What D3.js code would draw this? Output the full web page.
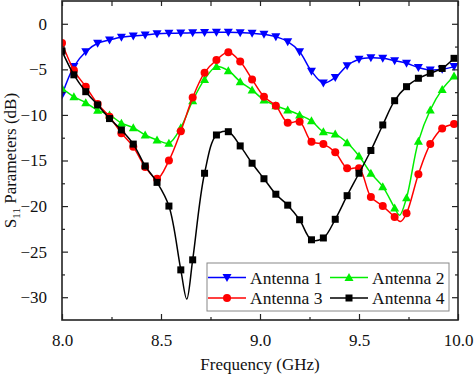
<!DOCTYPE html>
<html>
<head>
<meta charset="utf-8">
<script src="https://cdn.jsdelivr.net/npm/d3@7"></script>
<style>
  body { margin: 0; background: #fff; }
  svg { display: block; }
  svg text { font-family: "Liberation Serif"; }
</style>
</head>
<body>
<div id="chart"></div>
<script>
const freqs = [8.00, 8.06, 8.12, 8.18, 8.24, 8.30, 8.36, 8.42, 8.48, 8.54,
  8.60, 8.66, 8.72, 8.78, 8.84, 8.90, 8.96, 9.02, 9.08, 9.14,
  9.20, 9.26, 9.32, 9.38, 9.44, 9.50, 9.56, 9.62, 9.68, 9.74,
  9.80, 9.86, 9.92, 9.98];

const antenna1 = [-7.8, -4.7, -3.06, -2.14, -1.78, -1.48, -1.34, -1.23, -1.1, -1.04,
  -1.02, -0.98, -0.95, -0.93, -0.93, -0.98, -1.04, -1.15, -1.41, -1.96,
  -3.06, -5.2, -6.5, -5.9, -4.6, -3.9, -3.72, -3.79, -4.05, -4.34,
  -4.8, -5.07, -5.0, -4.7];

const antenna2 = [-7.08, -8.0, -8.66, -9.5, -10.0, -10.9, -11.4, -12.2, -12.75, -13.1,
  -11.4, -8.44, -6.1, -4.7, -5.15, -6.35, -7.26, -8.36, -9.0, -9.46,
  -10.0, -10.65, -11.84, -12.1, -13.05, -14.5, -16.4, -17.87, -20.2, -19.1,
  -12.9, -9.46, -7.2, -5.73];

const antenna3 = [-2.1, -5.1, -6.9, -8.8, -10.2, -12.0, -13.5, -15.7, -17.0, -15.0,
  -11.8, -8.1, -5.36, -3.97, -3.13, -4.15, -6.1, -8.0, -9.0, -10.85,
  -10.74, -12.94, -13.2, -14.1, -15.86, -15.86, -19.0, -20.0, -21.2, -20.8,
  -16.5, -13.2, -11.5, -11.0];

const antenna4 = [-3.0, -5.6, -7.45, -8.9, -10.4, -11.65, -13.2, -15.6, -17.4, -20.0,
  -27.0, -25.9, -16.4, -12.2, -11.84, -13.4, -15.3, -17.0, -18.7, -19.9,
  -21.5, -23.7, -23.5, -21.45, -18.86, -16.4, -13.9, -11.1, -8.44, -6.9,
  -5.98, -5.43, -4.9, -3.79];

// points where the traced curve dips between markers (line only)
const antenna2Dip = [[9.705, -21.0]];
const antenna3Dip = [[9.71, -21.7]];
const antenna4Dip = [[8.63, -30.2]];

const xTicks = [8.0, 8.5, 9.0, 9.5, 10.0];
const xMinor = [8.25, 8.75, 9.25, 9.75];
const yTicks = [-30, -25, -20, -15, -10, -5, 0];
const yMinor = [-27.5, -22.5, -17.5, -12.5, -7.5, -2.5];

const series = [
  { name: "Antenna 1", values: antenna1, dip: [], color: "#0000ff", marker: "tri" },
  { name: "Antenna 2", values: antenna2, dip: antenna2Dip, color: "#00ee00", marker: "triUp" },
  { name: "Antenna 3", values: antenna3, dip: antenna3Dip, color: "#ff0000", marker: "circle" },
  { name: "Antenna 4", values: antenna4, dip: antenna4Dip, color: "#000000", marker: "square" }
];

const width = 474, height = 375;
const margin = { top: 1, right: 16, bottom: 55, left: 62 };

const x = d3.scaleLinear().domain([8, 10]).range([margin.left, width - margin.right]);
const y = d3.scaleLinear().domain([-32.5, 2.5]).range([height - margin.bottom, margin.top]);

const svg = d3.select("#chart").append("svg")
  .attr("width", width).attr("height", height)
  .attr("viewBox", [0, 0, width, height]);

const line = d3.line()
  .x(d => x(d[0]))
  .y(d => y(d[1]))
  .curve(d3.curveCatmullRom.alpha(0.5));

function drawMarker(g, type, color) {
  if (type === "circle") {
    g.append("circle").attr("r", 4).attr("fill", color);
  } else if (type === "square") {
    g.append("rect").attr("x", -3.5).attr("y", -3.5).attr("width", 7).attr("height", 7).attr("fill", color);
  } else if (type === "tri") {
    g.append("path").attr("d", "M-4.5,-3.5L4.5,-3.5L0,4.5Z").attr("fill", color);
  } else {
    g.append("path").attr("d", "M-4.5,3.5L4.5,3.5L0,-4.5Z").attr("fill", color);
  }
}

svg.append("clipPath").attr("id", "plot")
  .append("rect")
  .attr("x", x(8)).attr("y", y(2.5))
  .attr("width", x(10) - x(8)).attr("height", y(-32.5) - y(2.5));

const plot = svg.append("g").attr("clip-path", "url(#plot)");

for (const s of series) {
  const pts = freqs.map((f, i) => [f, s.values[i]]).concat(s.dip).sort((a, b) => a[0] - b[0]);
  plot.append("path")
    .datum(pts)
    .attr("fill", "none")
    .attr("stroke", s.color)
    .attr("stroke-width", 1.5)
    .attr("d", line);
  freqs.forEach((f, i) => {
    const g = plot.append("g").attr("transform", `translate(${x(f)},${y(s.values[i])})`);
    drawMarker(g, s.marker, s.color);
  });
}

// frame
svg.append("rect")
  .attr("x", x(8)).attr("y", y(2.5))
  .attr("width", x(10) - x(8)).attr("height", y(-32.5) - y(2.5))
  .attr("fill", "none").attr("stroke", "#222").attr("stroke-width", 1.6);

// axes with inward ticks
const fmtX = d3.format(".1f");
svg.append("g")
  .attr("transform", `translate(0,${y(-32.5)})`)
  .call(d3.axisBottom(x).tickValues(xTicks).tickFormat(fmtX).tickSizeInner(-6).tickSizeOuter(0).tickPadding(14))
  .call(g => g.select(".domain").remove());
svg.append("g")
  .attr("transform", `translate(0,${y(-32.5)})`)
  .call(d3.axisBottom(x).tickValues(xMinor).tickFormat("").tickSizeInner(-3).tickSizeOuter(0))
  .call(g => g.select(".domain").remove());
svg.append("g")
  .attr("transform", `translate(0,${y(2.5)})`)
  .call(d3.axisTop(x).tickValues(xTicks.concat(xMinor)).tickFormat("").tickSizeInner(-5).tickSizeOuter(0))
  .call(g => g.select(".domain").remove());

svg.append("g")
  .attr("transform", `translate(${x(8)},0)`)
  .call(d3.axisLeft(y).tickValues(yTicks).tickSizeInner(-6).tickSizeOuter(0).tickPadding(15))
  .call(g => g.select(".domain").remove());
svg.append("g")
  .attr("transform", `translate(${x(8)},0)`)
  .call(d3.axisLeft(y).tickValues(yMinor).tickFormat("").tickSizeInner(-3).tickSizeOuter(0))
  .call(g => g.select(".domain").remove());
svg.append("g")
  .attr("transform", `translate(${x(10)},0)`)
  .call(d3.axisRight(y).tickValues(yTicks).tickFormat("").tickSizeInner(-6).tickSizeOuter(0))
  .call(g => g.select(".domain").remove());
svg.append("g")
  .attr("transform", `translate(${x(10)},0)`)
  .call(d3.axisRight(y).tickValues(yMinor).tickFormat("").tickSizeInner(-3).tickSizeOuter(0))
  .call(g => g.select(".domain").remove());

svg.selectAll(".tick line").attr("stroke", "#222").attr("stroke-width", 1.2);
svg.selectAll(".tick text").attr("font-size", 17).attr("fill", "#111");

// axis titles
svg.append("text")
  .attr("x", (x(8) + x(10)) / 2).attr("y", 370)
  .attr("text-anchor", "middle").attr("font-size", 17).attr("fill", "#111")
  .text("Frequency (GHz)");

const yt = svg.append("text")
  .attr("transform", `translate(16,${(y(-32.5) + y(2.5)) / 2}) rotate(-90)`)
  .attr("text-anchor", "middle").attr("font-size", 17).attr("fill", "#111");
yt.append("tspan").text("S");
yt.append("tspan").attr("font-size", 11).attr("dy", 4).text("11");
yt.append("tspan").attr("dy", -4).text(" Parameters (dB)");

// legend
const legend = svg.append("g");
legend.append("rect")
  .attr("x", 207).attr("y", 263).attr("width", 242).attr("height", 48)
  .attr("fill", "#fff").attr("stroke", "#888").attr("stroke-width", 1);

const legendPos = [[208, 277.5], [330, 277.5], [208, 298], [330, 298]];
series.forEach((s, k) => {
  const [lx, ly] = legendPos[k];
  const g = legend.append("g");
  g.append("line").attr("x1", lx).attr("x2", lx + 38).attr("y1", ly).attr("y2", ly)
    .attr("stroke", s.color).attr("stroke-width", 1.5);
  const m = g.append("g").attr("transform", `translate(${lx + 19},${ly})`);
  drawMarker(m, s.marker, s.color);
  g.append("text").attr("x", lx + 42).attr("y", ly + 6)
    .attr("font-size", 17.5).attr("fill", "#111").text(s.name);
});

svg.selectAll("text").attr("font-family", "Liberation Serif").style("font-family", "Liberation Serif");
</script>
</body>
</html>
